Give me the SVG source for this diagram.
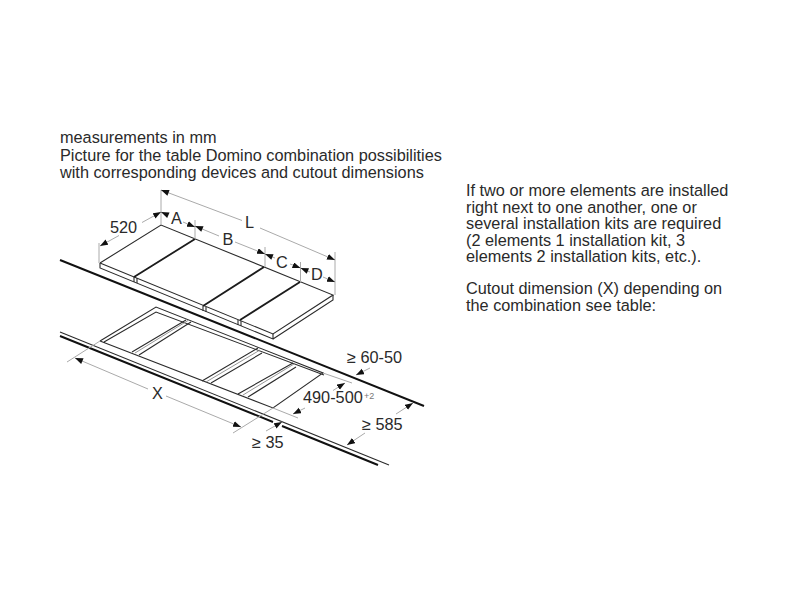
<svg xmlns="http://www.w3.org/2000/svg" width="800" height="600" viewBox="0 0 800 600">
<style>
text{font-family:"Liberation Sans",Arial,sans-serif;fill:#2a2a2a;font-size:16.3px}
.e{fill:none;stroke:#2b2b2b;stroke-width:1.1}
.m{fill:none;stroke:#8a8a8a;stroke-width:.9}
.h{fill:none;stroke:#111;stroke-width:1.9}
.t{fill:none;stroke:#1c1c1c;stroke-width:1.8}
.g{fill:none;stroke:#aaa;stroke-width:1}
.a{marker-end:url(#ah)}
.b{marker-start:url(#as)}
</style>
<defs>
<marker id="ah" markerUnits="userSpaceOnUse" markerWidth="9" markerHeight="7" refX="8" refY="3" orient="auto"><path d="M0 0L8 3L0 6Z" fill="#111"/></marker>
<marker id="as" markerUnits="userSpaceOnUse" markerWidth="9" markerHeight="7" refX="0" refY="3" orient="auto"><path d="M8 0L0 3L8 6Z" fill="#111"/></marker>
</defs>
<rect width="800" height="600" fill="#fff"/>
<g id="caption">
<text x="60" y="143">measurements in mm</text>
<text x="60" y="160.500">Picture for the table Domino combination possibilities</text>
<text x="60" y="177.500">with corresponding devices and cutout dimensions</text>
</g>
<g id="notes">
<text x="466" y="196">If two or more elements are installed</text>
<text x="466" y="212.500">right next to one another, one or</text>
<text x="466" y="229">several installation kits are required</text>
<text x="466" y="245.500">(2 elements 1 installation kit, 3</text>
<text x="466" y="262">elements 2 installation kits, etc.).</text>
<text x="466" y="294">Cutout dimension (X) depending on</text>
<text x="466" y="311">the combination see table:</text>
</g>
<g id="worktop-lines">
<path class="h" d="M60 260L424 406"/>
<path class="e" d="M60 332L389 465"/>
<path class="h" d="M60 336L273 422M282 426L378 465"/>
</g>
<g id="hob-plates">
<path class="e" d="M100 263L161 225L333 295L273 334L100 263"/>
<path class="e" d="M100 263V268L273 339V334M273 339L333 300V295"/>
<path class="t" d="M195 239L134 277M264 267L203 306M300 282L240 320"/>
<path class="e" d="M134 277V282M137 278V283M203 306V311M206 307V312M238 320V325M241 321V326"/>
</g>
<g id="cutout">
<path class="e" d="M100 341L156 307L323 373L273 408L100 341M104 342L156 312L324 375"/>
<path class="e" d="M132 352L186 320M139 355L191 322M202 381L258 348M211 383L262 353M238 394L293 363M248 397L296 367"/>
<path class="m" d="M135 353L188 320.500M206 382L260 350M243 395L294 364"/>
</g>
<g id="dimensions">
<path class="g" d="M99 263V243M161 225V190M195 239V220M265 267V247M300.500 282V262M335 295V252"/>
<path class="g a" d="M119 235.500L100 246"/><path class="g a" d="M142 222.500L161 212"/>
<path class="g b" d="M161 212L168 215"/><path class="g a" d="M183 222L195 227"/>
<path class="g b" d="M195 226L219 236"/><path class="g a" d="M235 242L265 254"/>
<path class="g b" d="M265 254L275 258"/><path class="g a" d="M290 264L300.500 268"/>
<path class="g b" d="M300.500 268L310 272"/><path class="g a" d="M323 277L335 282"/>
<path class="g b" d="M161 190L242 220.500"/><path class="g a" d="M260 228L335 260"/>
<text x="110" y="233">520</text>
<text x="171" y="224">A</text>
<text x="222.500" y="245">B</text>
<text x="276" y="268">C</text>
<text x="311" y="280">D</text>
<text x="245" y="228">L</text>
<path class="g" d="M67 362L100 341M233 433L273 408"/>
<path class="g b" d="M75 358L148 389"/><path class="g a" d="M166 396L241 427"/>
<text x="152" y="399">X</text>
<path class="g a" d="M266 431L282 422"/>
<text x="252" y="448">≥ 35</text>
<path class="g a" d="M370 368L356 375"/>
<text x="347" y="363">≥ 60-50</text>
<path class="g" d="M323 373L352 383M273 408L298 418"/>
<path class="g a" d="M333 390.500L345 383"/><path class="g a" d="M305 408L293 414"/>
<text x="303" y="403">490-500</text>
<text x="364" y="399" style="font-size:9px;fill:#777">+2</text>
<path class="g a" d="M396 414L413 403"/><path class="g a" d="M365 433L347 445"/>
<text x="362" y="430">≥ 585</text>
</g>
</svg>
